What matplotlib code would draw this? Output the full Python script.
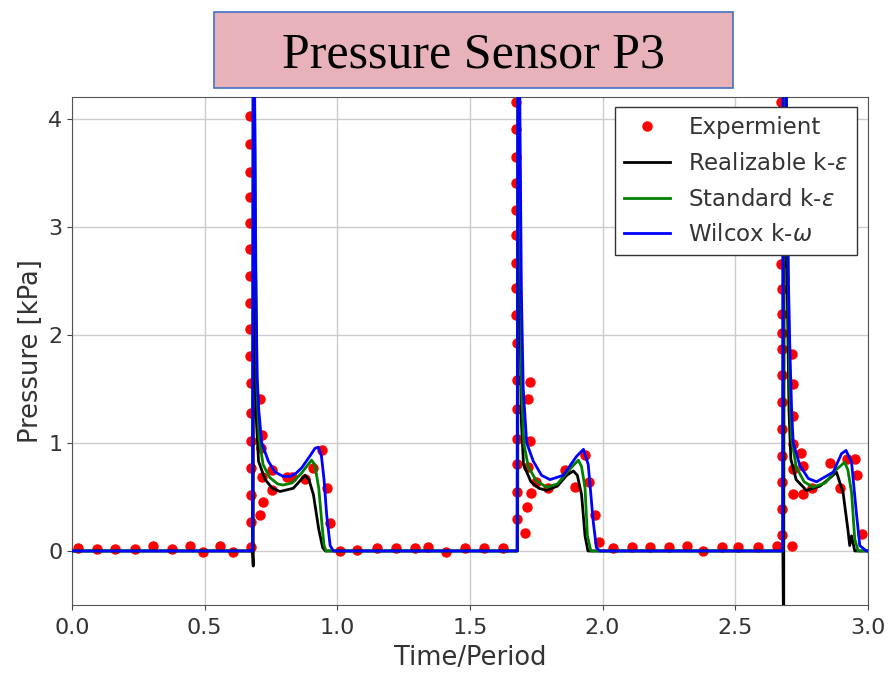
import matplotlib
matplotlib.use("Agg")
import matplotlib.pyplot as plt
from matplotlib.patches import Rectangle

# ---- experimental pressure samples (Time/Period, kPa) ----
exp_t = [
    # period 1: quiet baseline
    0.023, 0.094, 0.162, 0.238, 0.305, 0.377, 0.445, 0.494, 0.558, 0.607,
    # period 1: impact rise
    0.670, 0.670, 0.670, 0.671, 0.671, 0.671, 0.671, 0.672, 0.672, 0.672,
    0.673, 0.673, 0.674, 0.674, 0.675, 0.675, 0.676,
    # period 1: after impact
    0.709, 0.715, 0.712, 0.715, 0.721, 0.709, 0.753, 0.753, 0.809, 0.828,
    0.878, 0.910, 0.941, 0.960, 0.973, 1.010, 1.074,
    # period 2: baseline
    1.150, 1.220, 1.293, 1.342, 1.410, 1.480, 1.553, 1.625,
    # period 2: impact rise
    1.673, 1.673, 1.673, 1.674, 1.674, 1.674, 1.675, 1.675, 1.675, 1.676,
    1.676, 1.677, 1.677, 1.677, 1.678, 1.678,
    # period 2: after impact
    1.726, 1.720, 1.726, 1.720, 1.750, 1.732, 1.715, 1.707, 1.795, 1.860,
    1.895, 1.935, 1.950, 1.970, 1.985, 2.040,
    # period 3: baseline
    2.110, 2.180, 2.250, 2.320, 2.380, 2.450, 2.510, 2.586, 2.656,
    # period 3: impact rise
    2.673, 2.673, 2.673, 2.674, 2.674, 2.674, 2.674, 2.675, 2.675, 2.675,
    2.675, 2.675, 2.676, 2.676, 2.676, 2.676, 2.677, 2.677,
    # period 3: after impact
    2.713, 2.719, 2.719, 2.719, 2.750, 2.719, 2.756, 2.719, 2.756, 2.788,
    2.857, 2.895, 2.920, 2.951, 2.958, 2.977, 2.713,
]
exp_p = [
    0.03, 0.02, 0.02, 0.02, 0.05, 0.02, 0.05, -0.01, 0.05, -0.01,
    4.02, 3.76, 3.51, 3.27, 3.03, 2.79, 2.54, 2.29, 2.05, 1.80,
    1.55, 1.28, 1.02, 0.77, 0.52, 0.27, 0.04,
    1.41, 1.07, 0.95, 0.68, 0.45, 0.33, 0.75, 0.56, 0.68, 0.68,
    0.67, 0.77, 0.93, 0.58, 0.26, 0.00, 0.01,
    0.03, 0.03, 0.03, 0.04, -0.01, 0.03, 0.03, 0.03,
    4.15, 3.90, 3.64, 3.40, 3.15, 2.92, 2.66, 2.43, 2.18, 1.92,
    1.58, 1.31, 1.04, 0.80, 0.55, 0.30,
    1.56, 1.41, 1.02, 0.78, 0.64, 0.54, 0.41, 0.17, 0.58, 0.75,
    0.59, 0.89, 0.64, 0.33, 0.08, 0.03,
    0.04, 0.04, 0.04, 0.05, 0.00, 0.04, 0.04, 0.04, 0.05,
    4.15, 3.90, 3.65, 3.40, 3.15, 2.90, 2.65, 2.42, 2.19, 2.02,
    1.87, 1.63, 1.38, 1.13, 0.88, 0.64, 0.39, 0.15,
    1.82, 1.54, 1.25, 0.99, 0.91, 0.76, 0.79, 0.53, 0.53, 0.58,
    0.81, 0.58, 0.85, 0.85, 0.70, 0.16, 0.05,
]

# ---- Realizable k-epsilon ----
rke_t = [0.000, 0.680, 0.683, 0.685, 0.690, 0.695, 0.703, 0.728, 0.755, 0.784,
         0.834, 0.860, 0.878, 0.893, 0.910, 0.930, 0.945, 0.955,
         1.680, 1.683, 1.688, 1.694, 1.702, 1.730, 1.760, 1.789, 1.830, 1.865,
         1.890, 1.905, 1.921, 1.934, 1.945,
         2.680, 2.683, 2.686, 2.696, 2.703, 2.710, 2.730, 2.769, 2.820, 2.860,
         2.882, 2.907, 2.926, 2.932, 2.939, 2.951, 3.000]
rke_p = [0.00, 0.00, -0.14, 6.00, 3.00, 1.20, 0.83, 0.66, 0.58, 0.55,
         0.58, 0.65, 0.70, 0.66, 0.52, 0.20, 0.03, 0.00,
         0.00, 6.00, 3.00, 1.20, 0.80, 0.64, 0.58, 0.56, 0.60, 0.70,
         0.74, 0.70, 0.52, 0.14, 0.00,
         0.00, -0.90, 6.50, 2.50, 1.30, 0.85, 0.66, 0.56, 0.60, 0.68,
         0.73, 0.54, 0.18, 0.05, 0.14, 0.00, 0.00]

# ---- Standard k-epsilon ----
ske_t = [0.000, 0.680, 0.684, 0.690, 0.697, 0.705, 0.720, 0.745, 0.775, 0.796,
         0.830, 0.865, 0.890, 0.903, 0.915, 0.930, 0.942, 0.950, 0.958,
         1.678, 1.682, 1.688, 1.695, 1.703, 1.720, 1.750, 1.789, 1.830, 1.870,
         1.909, 1.921, 1.934, 1.943, 1.956,
         2.680, 2.683, 2.698, 2.705, 2.712, 2.730, 2.760, 2.794, 2.840, 2.880,
         2.913, 2.925, 2.939, 2.951, 2.964, 3.000]
ske_p = [0.00, 0.00, 6.50, 3.50, 1.50, 1.05, 0.80, 0.68, 0.62, 0.61,
         0.63, 0.72, 0.80, 0.84, 0.80, 0.58, 0.25, 0.05, 0.00,
         0.00, 6.50, 3.50, 1.50, 1.00, 0.78, 0.65, 0.59, 0.62, 0.74,
         0.84, 0.78, 0.58, 0.14, 0.00,
         0.00, 6.50, 3.00, 1.60, 1.05, 0.78, 0.64, 0.59, 0.63, 0.75,
         0.82, 0.75, 0.54, 0.11, 0.00, 0.00]

# ---- Wilcox k-omega ----
wko_t = [0.000, 0.680, 0.684, 0.688, 0.692, 0.698, 0.704, 0.715, 0.740, 0.765,
         0.796, 0.822, 0.845, 0.866, 0.900, 0.916, 0.929, 0.940, 0.950, 0.960,
         0.973, 0.985,
         1.678, 1.682, 1.688, 1.694, 1.701, 1.714, 1.739, 1.770, 1.802, 1.852,
         1.902, 1.928, 1.946, 1.955, 1.965, 1.977, 1.990,
         2.679, 2.681, 2.700, 2.706, 2.713, 2.719, 2.744, 2.776, 2.807, 2.870,
         2.901, 2.918, 2.939, 2.958, 2.970, 2.995, 3.000]
wko_p = [0.00, 0.00, 7.00, 4.20, 2.60, 1.60, 1.30, 1.00, 0.83, 0.73,
         0.69, 0.69, 0.72, 0.77, 0.89, 0.95, 0.96, 0.88, 0.66, 0.33,
         0.05, 0.00,
         0.00, 7.00, 4.20, 2.40, 1.50, 1.00, 0.83, 0.70, 0.66, 0.70,
         0.875, 0.94, 0.80, 0.55, 0.27, 0.03, 0.00,
         0.00, 7.00, 2.60, 1.90, 1.30, 1.00, 0.79, 0.67, 0.64, 0.73,
         0.90, 0.93, 0.82, 0.33, 0.05, 0.00, 0.00]

x_ticks = [0.0, 0.5, 1.0, 1.5, 2.0, 2.5, 3.0]
y_ticks = [0, 1, 2, 3, 4]

fig = plt.figure(figsize=(8.9, 6.73), dpi=100)
ax = fig.add_axes([0.081, 0.101, 0.894, 0.755])

ax.plot(exp_t, exp_p, linestyle="none", marker="o", markersize=6.5,
        color="red", label="Expermient", zorder=2)
ax.plot(rke_t, rke_p, color="black", lw=2, label=r"Realizable k-$\varepsilon$", zorder=3)
ax.plot(ske_t, ske_p, color="green", lw=2, label=r"Standard k-$\varepsilon$", zorder=3)
ax.plot(wko_t, wko_p, color="blue", lw=2, label=r"Wilcox k-$\omega$", zorder=3)

ax.set_xlim(0.0, 3.0)
ax.set_ylim(-0.5, 4.2)
ax.set_xticks(x_ticks)
ax.set_yticks(y_ticks)
ax.tick_params(labelsize=16, color="#444444", labelcolor="#333333")
ax.tick_params(axis="x", pad=6)
ax.grid(True, color="#cccccc", lw=1)
ax.set_axisbelow(True)
for s in ax.spines.values():
    s.set_color("#555555")
ax.set_xlabel("Time/Period", fontsize=18.5, color="#333333", labelpad=5)
ax.set_ylabel("Pressure [kPa]", fontsize=18.5, color="#333333", labelpad=3)

leg = ax.legend(loc="upper right", fontsize=16.5, fancybox=False, framealpha=1,
                edgecolor="#333333", borderaxespad=0.45, handlelength=2.0,
                labelspacing=0.55)
for txt in leg.get_texts():
    txt.set_color("#333333")

# Sensor caption box above the axes
fig.patches.append(Rectangle((0.2404, 0.8692), 0.5831, 0.1129,
                             transform=fig.transFigure, facecolor="#e8b2bb",
                             edgecolor="#4472c4", lw=1.2, zorder=5))
fig.text(0.532, 0.9004, "Pressure Sensor P3", family="Liberation Serif",
         fontsize=36, ha="center", va="baseline", color="black", zorder=6)

fig.savefig("out.png", dpi=100)
